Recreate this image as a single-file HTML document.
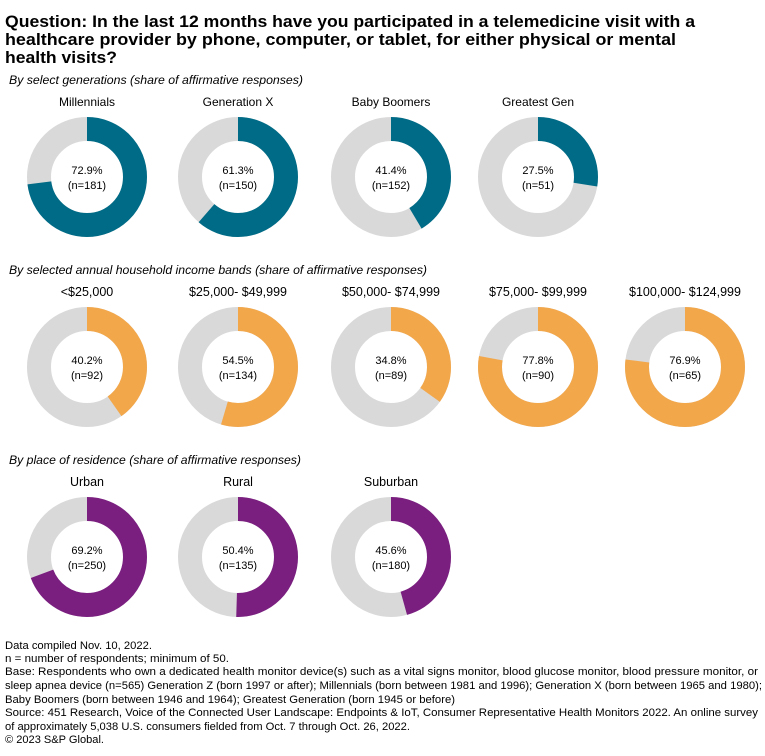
<!DOCTYPE html><html><head><meta charset="utf-8"><style>
body{margin:0;width:765px;height:756px;background:#fff;font-family:"Liberation Sans",sans-serif;color:#000;overflow:hidden}
</style></head><body>
<svg width="765" height="756" style="position:absolute;left:0;top:0" font-family="Liberation Sans, sans-serif">
<g font-weight="bold" font-size="17">
<text x="5" y="27" textLength="690" lengthAdjust="spacingAndGlyphs">Question: In the last 12 months have you participated in a telemedicine visit with a</text>
<text x="5" y="45" textLength="671" lengthAdjust="spacingAndGlyphs">healthcare provider by phone, computer, or tablet, for either physical or mental</text>
<text x="5" y="63" textLength="112" lengthAdjust="spacingAndGlyphs">health visits?</text>
</g>
<g font-style="italic" font-size="11.5">
<text x="9" y="84" textLength="294" lengthAdjust="spacingAndGlyphs">By select generations (share of affirmative responses)</text>
<text x="9" y="274" textLength="418" lengthAdjust="spacingAndGlyphs">By selected annual household income bands (share of affirmative responses)</text>
<text x="9" y="464" textLength="292" lengthAdjust="spacingAndGlyphs">By place of residence (share of affirmative responses)</text>
</g>
<g font-size="11">
<text x="5" y="649" textLength="147" lengthAdjust="spacingAndGlyphs">Data compiled Nov. 10, 2022.</text>
<text x="5" y="662" textLength="224" lengthAdjust="spacingAndGlyphs">n = number of respondents; minimum of 50.</text>
<text x="5" y="675" textLength="753" lengthAdjust="spacingAndGlyphs">Base: Respondents who own a dedicated health monitor device(s) such as a vital signs monitor, blood glucose monitor, blood pressure monitor, or</text>
<text x="5" y="689" textLength="757" lengthAdjust="spacingAndGlyphs">sleep apnea device (n=565) Generation Z (born 1997 or after); Millennials (born between 1981 and 1996); Generation X (born between 1965 and 1980);</text>
<text x="5" y="703" textLength="450" lengthAdjust="spacingAndGlyphs">Baby Boomers (born between 1946 and 1964); Greatest Generation (born 1945 or before)</text>
<text x="5" y="716" textLength="753" lengthAdjust="spacingAndGlyphs">Source: 451 Research, Voice of the Connected User Landscape: Endpoints &amp; IoT, Consumer Representative Health Monitors 2022. An online survey</text>
<text x="5" y="730" textLength="405" lengthAdjust="spacingAndGlyphs">of approximately 5,038 U.S. consumers fielded from Oct. 7 through Oct. 26, 2022.</text>
<text x="5" y="743" textLength="99" lengthAdjust="spacingAndGlyphs">© 2023 S&amp;P Global.</text>
</g>
<g id="d"></g>
</svg>
<script>
var data=[
[87,177,"Millennials",72.9,181,"#006b86",12],[238,177,"Generation X",61.3,150,"#006b86",12],[391,177,"Baby Boomers",41.4,152,"#006b86",12],[538,177,"Greatest Gen",27.5,51,"#006b86",12],
[87,367,"<$25,000",40.2,92,"#f2a74b",12.5],[238,367,"$25,000- $49,999",54.5,134,"#f2a74b",12.5],[391,367,"$50,000- $74,999",34.8,89,"#f2a74b",12.5],[538,367,"$75,000- $99,999",77.8,90,"#f2a74b",12.5],[685,367,"$100,000- $124,999",76.9,65,"#f2a74b",12.5],
[87,557,"Urban",69.2,250,"#7a1e80",12.5],[238,557,"Rural",50.4,135,"#7a1e80",12.5],[391,557,"Suburban",45.6,180,"#7a1e80",12.5]];
var s="",C=2*Math.PI*48;
data.forEach(function(d){var x=d[0],y=d[1],L=C*d[3]/100;
s+='<circle cx="'+x+'" cy="'+y+'" r="48" fill="none" stroke="#d9d9d9" stroke-width="24"/>';
s+='<circle cx="'+x+'" cy="'+y+'" r="48" fill="none" stroke="'+d[5]+'" stroke-width="24" stroke-dasharray="'+L+' '+C+'" transform="rotate(-90 '+x+' '+y+')"/>';
s+='<text x="'+x+'" y="'+(y-71)+'" text-anchor="middle" font-size="'+d[6]+'">'+d[2].replace("<","&lt;")+'</text>';
s+='<text x="'+x+'" y="'+(y-3)+'" text-anchor="middle" font-size="11">'+d[3].toFixed(1)+'%</text>';
s+='<text x="'+x+'" y="'+(y+12)+'" text-anchor="middle" font-size="11">(n='+d[4]+')</text>';});
document.getElementById("d").innerHTML=s;
</script>
</body></html>
